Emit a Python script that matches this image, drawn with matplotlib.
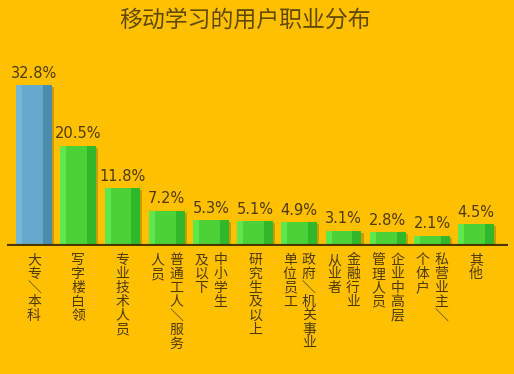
import matplotlib.pyplot as plt
import matplotlib.patheffects as pe

plt.rcParams['font.family'] = ['Noto Sans CJK SC', 'DejaVu Sans']

title = '移动学习的用户职业分布'
# each label: list of columns, drawn right-to-left (first column on the right)
labels = [
    ['大专/本科'],
    ['写字楼白领'],
    ['专业技术人员'],
    ['普通工人/服务', '人员'],
    ['中小学生', '及以下'],
    ['研究生及以上'],
    ['政府/机关事业', '单位员工'],
    ['金融行业', '从业者'],
    ['企业中高层', '管理人员'],
    ['私营业主/', '个体户'],
    ['其他'],
]
values = [32.8, 20.5, 11.8, 7.2, 5.3, 5.1, 4.9, 3.1, 2.8, 2.1, 4.5]

bg = '#ffc000'
txt = '#4e3b00'

W, H = 514, 374
fig = plt.figure(figsize=(W / 100, H / 100), dpi=100, facecolor=bg)
# axes in pixel terms: x 7..508, baseline y=246, top y=50
ax = fig.add_axes([7 / W, (H - 246) / H, 501 / W, 196 / H])
ax.set_facecolor(bg)
ax.set_xlim(-0.611, 10.72)
ax.set_ylim(0, 196 / 4.9)
ax.axis('off')

bw = 0.81
shadow = [pe.SimplePatchShadow(offset=(1.5, -1.5), alpha=0.25), pe.Normal()]
for i, v in enumerate(values):
    if i == 0:
        main, light, dark = '#65aacb', '#76b6d6', '#4c8cac'
    else:
        main, light, dark = '#4cd236', '#5ee84c', '#30b82a'
    x0 = i - bw / 2
    ax.bar(i, v, width=bw, color=main, path_effects=shadow, zorder=2)
    ax.bar(x0, v, width=bw * 0.17, align='edge', color=light, zorder=3)
    ax.bar(x0 + bw * 0.75, v, width=bw * 0.25, align='edge', color=dark, zorder=3)
    ax.text(i, v + 0.9, f'{v:.1f}%', ha='center', va='bottom', fontsize=10.5,
            color=txt, family='DejaVu Sans')

ax.axhline(0, xmin=0, xmax=1, color='#4a3600', lw=3, zorder=4)

# vertical category labels, columns read right to left
for i, cols in enumerate(labels):
    n = len(cols)
    for j, col in enumerate(cols):
        dx = (n - 1) / 2 * 0.43 - j * 0.43
        s = '\n'.join(col.replace('/', '＼'))
        ax.text(i + dx, -1.45, s, ha='center', va='top', fontsize=10,
                color=txt, linespacing=0.99)

fig.text(245 / W, 1 - 20 / H, title, ha='center', va='center', fontsize=16.5,
         color='#614a00')

fig.savefig('out.png', dpi=100, facecolor=bg)
